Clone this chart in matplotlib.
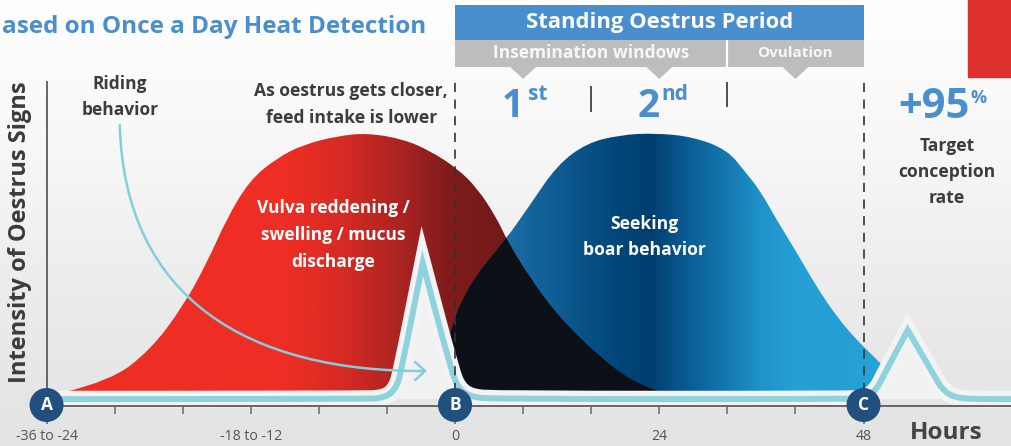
import numpy as np
import matplotlib
matplotlib.use("Agg")
import matplotlib.pyplot as plt
from matplotlib.path import Path
from matplotlib.patches import PathPatch, Rectangle, Polygon, FancyArrowPatch
from matplotlib.colors import LinearSegmentedColormap

plt.rcParams["font.family"] = ["Open Sans", "DejaVu Sans"]

# ─────────────────────────────────────────
# Data (x = hours, y = intensity of signs)
# ─────────────────────────────────────────

# red bell: vulva reddening / swelling / mucus discharge
red_x = [-45.8, -40.5, -35.8, -32.0, -29.1, -26.8, -24.1, -20.9, -17.9, -13.9, -10.3,
         -6.1, -2.9, 0.2, 2.6, 4.9, 6.1, 8.8, 12.3, 17.0, 20.6, 24.1]
red_y = [5.1, 9.1, 20.3, 35.9, 52.2, 68.1, 81.9, 89.9, 94.6, 97.8, 98.9,
         96.7, 92.4, 86.2, 79.0, 68.1, 60.1, 46.4, 31.9, 17.8, 9.4, 5.1]

# blue bell: seeking boar behavior
blue_x = [-1.8, -1.2, -0.4, 0.6, 2.6, 5.9, 8.8, 12.0, 15.5, 19.4, 23.5, 28.0,
          32.0, 34.1, 35.8, 37.8, 40.2, 42.5, 44.9, 47.2, 49.6, 51.7, 53.5]
blue_y = [5.1, 18.5, 28.6, 37.3, 48.2, 60.1, 72.8, 87.3, 95.3, 98.2, 98.9, 97.5,
          92.8, 84.8, 78.3, 67.4, 55.4, 43.1, 32.2, 23.9, 16.7, 10.1, 5.1]

# light blue trace with its two peaks (peak points doubled to keep them sharp)
trace_x = [-48, -11.2, -8.2, -6.9, -6.3, -3.8, -3.8, -0.4, 0.4, 1.8, 4.7,
           45.8, 48.2, 49.5, 50.2, 53.2, 53.2, 56.4, 57.3, 58.8, 61.7, 66]
trace_y = [2.5, 2.5, 2.9, 6.5, 13.0, 51.8, 51.8, 12.3, 6.5, 3.3, 2.5,
           2.5, 2.9, 5.8, 10.1, 27.5, 27.5, 10.5, 5.8, 2.9, 2.5, 2.5]

# riding behavior arrow (cubic curve: start, two handles, end)
arrow_x = [-39.4, -38.8, -24.1, -3.3]
arrow_y = [101.8, 38.4, 12.3, 12.7]

# axis
circle_x = [-48, 0, 48]
circle_labels = ["A", "B", "C"]
major_ticks = [-48, 0, 48]
major_labels = ["-36 to -24", "0", "48"]
minor_ticks = [-40, -32, -24, -16, -8, 8, 16, 24, 32, 40]
minor_labels = ["", "", "-18 to -12", "", "", "", "", "24", "", ""]

# standing oestrus period banner
period = (0, 48)
windows_end = 32
window_marks = [8, 24, 40]
dashed_at = [0, 48]
solid_at = [16, 32]

# colour stops along x
red_stops = [(-47, "#ef2f26"), (-20, "#ee2e24"), (-13, "#d62a24"), (-6, "#a82321"),
             (-1, "#821c1c"), (6, "#721919"), (25, "#6a1717")]
blue_stops = [(-2, "#1c6ca3"), (6, "#1b6ea6"), (12, "#0e5c92"), (19, "#00467a"),
              (23, "#003f6f"), (27, "#0a5a92"), (31, "#1372aa"), (36, "#1f93cb"),
              (40, "#24a0d5"), (54, "#25a2d6")]

X_LO, X_HI = -53.47, 65.45
Y_LO, Y_HI = -14.49, 147.1


def smooth(xs, ys, close=False):
    """Quadratic curve through the midpoints of the given points."""
    verts = [(xs[0], ys[0])]
    codes = [Path.MOVETO]
    for i in range(1, len(xs) - 1):
        verts.append((xs[i], ys[i]))
        verts.append(((xs[i] + xs[i + 1]) / 2, (ys[i] + ys[i + 1]) / 2))
        codes += [Path.CURVE3, Path.CURVE3]
    verts.append((xs[-1], ys[-1]))
    codes.append(Path.LINETO)
    if close:
        verts.append((xs[0], ys[0]))
        codes.append(Path.CLOSEPOLY)
    return Path(verts, codes)


def gradient_fill(ax, path, stops, z):
    patch = PathPatch(path, fc="none", ec="none")
    ax.add_patch(patch)
    x0, x1 = stops[0][0], stops[-1][0]
    cmap = LinearSegmentedColormap.from_list(
        "g", [((s - x0) / (x1 - x0), c) for s, c in stops])
    img = ax.imshow(np.linspace(0, 1, 512)[None, :], cmap=cmap,
                    extent=[x0, x1, 0, 110], aspect="auto", zorder=z,
                    interpolation="bilinear")
    img.set_clip_path(patch)
    return patch


fig = plt.figure(figsize=(10.12, 4.46), dpi=100)
ax = fig.add_axes([0, 0, 1, 1])
ax.patch.set_visible(False)

# background
bg_cmap = LinearSegmentedColormap.from_list(
    "bg", [(0, "#e3e3e3"), (0.35, "#ececec"), (0.7, "#f8f8f8"), (1, "#ffffff")])
ax.imshow(np.linspace(0, 1, 256)[:, None], cmap=bg_cmap, origin="lower",
          extent=[X_LO, X_HI, Y_LO, Y_HI], aspect="auto", zorder=0)
ax.add_patch(Rectangle((0.9565, 0.827), 0.06, 0.2, transform=ax.transAxes,
                       color="#df312b", zorder=1))

# bells
red_path = smooth(red_x, red_y, close=True)
blue_path = smooth(blue_x, blue_y, close=True)
gradient_fill(ax, red_path, red_stops, 2)
blue_patch = gradient_fill(ax, blue_path, blue_stops, 3)
overlap = PathPatch(red_path, fc="#0d1016", ec="none", zorder=4)
ax.add_patch(overlap)
overlap.set_clip_path(blue_patch)

# light blue trace with halo
for sl in (slice(1, 11), slice(11, 21)):
    ax.add_patch(PathPatch(smooth(trace_x[sl], trace_y[sl], close=True),
                           fc="#f1f1f1", ec="none", zorder=5))
trace = smooth(trace_x, trace_y)
ax.add_patch(PathPatch(trace, fc="none", ec="#f3f3f3", lw=12, joinstyle="miter",
                       capstyle="butt", zorder=6))
ax.add_patch(PathPatch(trace, fc="none", ec="#8dd2dc", lw=4.3, joinstyle="miter",
                       capstyle="butt", zorder=7))

# riding arrow
arrow = FancyArrowPatch(
    path=Path(list(zip(arrow_x, arrow_y)),
              [Path.MOVETO, Path.CURVE4, Path.CURVE4, Path.CURVE4]),
    arrowstyle="->,head_length=0.4,head_width=0.36", mutation_scale=18,
    color="#82cfdc", lw=1.8, shrinkA=0, shrinkB=0, zorder=8)
ax.add_patch(arrow)

# period markers
ax.vlines(dashed_at, 5, 118, colors="#333333", lw=1.2,
          linestyles=(0, (5.5, 4.5)), zorder=9)
ax.vlines(solid_at[0], 106.5, 115.9, colors="#333333", lw=1.2, zorder=9)
ax.vlines(solid_at[1], 108.3, 117.4, colors="#333333", lw=1.2, zorder=9)

# banner
ax.add_patch(Rectangle((period[0], 132.6), period[1] - period[0], 12.7,
                       color="#4a8fcd", lw=0, zorder=9))
ax.add_patch(Rectangle((period[0], 122.8), period[1] - period[0], 9.8,
                       color="#bdbdbe", lw=0, zorder=9))
for c in window_marks:
    ax.add_patch(Polygon([(c - 1.55, 122.9), (c + 1.55, 122.9), (c, 118.5)],
                         closed=True, color="#bdbdbe", lw=0, zorder=9))
ax.vlines(windows_end, 122.8, 132.6, colors="white", lw=1.6, zorder=10)
ax.text(24, 139.0, "Standing Oestrus Period", ha="center", va="center",
        fontsize=15.8, fontweight="bold", color="white", zorder=11)
ax.text(16, 127.8, "Insemination windows", ha="center", va="center",
        fontsize=12.5, fontweight="bold", color="#f7f7f7", zorder=11)
ax.text(40, 128.0, "Ovulation", ha="center", va="center",
        fontsize=11, fontweight="bold", color="#f7f7f7", zorder=11)

# big numbers
blue_txt = "#4a8fcd"
ax.text(8.1, 104.7, "1", ha="right", va="baseline", fontsize=28,
        fontweight="bold", color=blue_txt)
ax.text(8.6, 110.9, "st", ha="left", va="baseline", fontsize=15,
        fontweight="bold", color=blue_txt)
ax.text(24.0, 104.7, "2", ha="right", va="baseline", fontsize=28,
        fontweight="bold", color=blue_txt)
ax.text(24.2, 110.9, "nd", ha="left", va="baseline", fontsize=15,
        fontweight="bold", color=blue_txt)
ax.text(60.5, 104.3, "+95", ha="right", va="baseline", fontsize=30,
        fontweight="bold", color=blue_txt)
ax.text(60.6, 109.8, "%", ha="left", va="baseline", fontsize=13,
        fontweight="bold", color=blue_txt)

# annotations
dark = "#3c3c3c"
ax.text(-53.2, 135.1, "ased on Once a Day Heat Detection", ha="left",
        va="baseline", fontsize=17.5, fontweight="bold", color=blue_txt)
ax.text(-39.4, 112.0, "Riding\nbehavior", ha="center", va="center",
        fontsize=12.5, fontweight="bold", color=dark, linespacing=1.6)
ax.text(-12.2, 109.2, "As oestrus gets closer,\nfeed intake is lower", ha="center",
        va="center", fontsize=12.6, fontweight="bold", color=dark, linespacing=1.6)
ax.text(-14.3, 62.0, "Vulva reddening /\nswelling / mucus\ndischarge", ha="center",
        va="center", fontsize=12.5, fontweight="bold", color="white",
        linespacing=1.62, zorder=10)
ax.text(22.3, 61.2, "Seeking\nboar behavior", ha="center", va="center",
        fontsize=12.6, fontweight="bold", color="white", linespacing=1.62,
        zorder=10)
ax.text(57.8, 84.8, "Target\nconception\nrate", ha="center", va="center",
        fontsize=12.6, fontweight="bold", color=dark, linespacing=1.55)
ax.text(-51.1, 63.0, "Intensity of Oestrus Signs", rotation=90, ha="center",
        va="center", fontsize=17, fontweight="bold", color="#3b3b3b")
ax.text(53.5, -14.3, "Hours", ha="left", va="bottom", fontsize=17.5,
        fontweight="bold", color="#444444")

# axes
for s in ("top", "right"):
    ax.spines[s].set_visible(False)
ax.spines["left"].set_position(("data", -48))
ax.spines["left"].set_bounds(0, 117.4)
ax.spines["bottom"].set_position(("data", 0))
ax.spines["bottom"].set_bounds(-48, X_HI)
for s in ("left", "bottom"):
    ax.spines[s].set_color("#666666")
    ax.spines[s].set_linewidth(1.4)
    ax.spines[s].set_zorder(9)
ax.xaxis.set_zorder(9)
ax.set_yticks([])
ax.set_xticks(major_ticks, labels=major_labels)
ax.set_xticks(minor_ticks, labels=minor_labels, minor=True)
ax.tick_params(axis="x", which="major", length=13, width=1.1, pad=3.5,
               color="#666666", labelcolor="#555555", labelsize=10.2)
ax.tick_params(axis="x", which="minor", length=6, width=1.1, pad=10.5,
               color="#666666", labelcolor="#555555", labelsize=10.2)

ax.scatter(circle_x, [0.36] * len(circle_x), s=600, c="#22507e",
           edgecolors="none", zorder=11, clip_on=False)
for cx, lab in zip(circle_x, circle_labels):
    ax.text(cx, 0.36, lab, ha="center", va="center", fontsize=12.5,
            fontweight="bold", color="white", zorder=12)

ax.set_xlim(X_LO, X_HI)
ax.set_ylim(Y_LO, Y_HI)

fig.savefig("out.png", dpi=100)
